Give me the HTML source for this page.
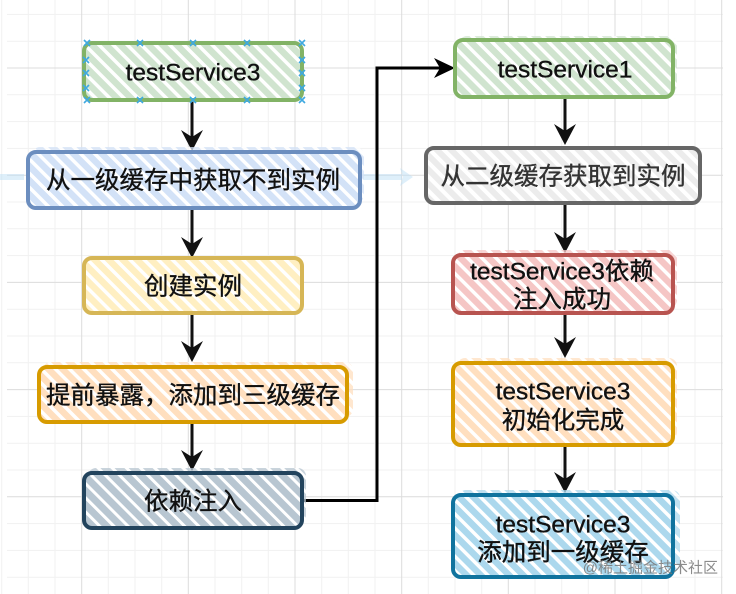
<!DOCTYPE html>
<html><head><meta charset="utf-8">
<style>
html,body{margin:0;padding:0;background:#fff;}
svg{display:block;}
text{font-family:"Liberation Sans","Noto Sans CJK SC",sans-serif;fill:#111;}
</style></head>
<body>
<svg width="736" height="594" viewBox="0 0 736 594" xmlns="http://www.w3.org/2000/svg">
<defs>
  <pattern id="pGreen" patternUnits="userSpaceOnUse" width="10" height="10" patternTransform="rotate(-45)"><rect width="10" height="10" fill="#fff"/><rect width="6.5" height="10" fill="#d0e4cf"/></pattern>
  <pattern id="pBlue" patternUnits="userSpaceOnUse" width="10" height="10" patternTransform="rotate(-45)"><rect width="10" height="10" fill="#fff"/><rect width="6.5" height="10" fill="#d3e2f7"/></pattern>
  <pattern id="pYellow" patternUnits="userSpaceOnUse" width="10" height="10" patternTransform="rotate(-45)"><rect width="10" height="10" fill="#fff"/><rect width="6.5" height="10" fill="#ffefc2"/></pattern>
  <pattern id="pOrange" patternUnits="userSpaceOnUse" width="10" height="10" patternTransform="rotate(-45)"><rect width="10" height="10" fill="#fff"/><rect width="6.5" height="10" fill="#ffdfbf"/></pattern>
  <pattern id="pDark" patternUnits="userSpaceOnUse" width="10" height="10" patternTransform="rotate(-45)"><rect width="10" height="10" fill="#fff"/><rect width="7" height="10" fill="#b8c6d1"/></pattern>
  <pattern id="pGray" patternUnits="userSpaceOnUse" width="10" height="10" patternTransform="rotate(-45)"><rect width="10" height="10" fill="#fff"/><rect width="6" height="10" fill="#ececec"/></pattern>
  <pattern id="pRed" patternUnits="userSpaceOnUse" width="10" height="10" patternTransform="rotate(-45)"><rect width="10" height="10" fill="#fff"/><rect width="6.5" height="10" fill="#f5c6c5"/></pattern>
  <pattern id="pCyan" patternUnits="userSpaceOnUse" width="10" height="10" patternTransform="rotate(-45)"><rect width="10" height="10" fill="#fff"/><rect width="6.5" height="10" fill="#acd8ed"/></pattern>
</defs>

<!-- grid -->
<g stroke="#f1f1f1" stroke-width="1">
  <line x1="1.7" y1="0" x2="1.7" y2="594"/><line x1="28.3" y1="0" x2="28.3" y2="594"/><line x1="55" y1="0" x2="55" y2="594"/>
  <line x1="108.3" y1="0" x2="108.3" y2="594"/><line x1="135" y1="0" x2="135" y2="594"/><line x1="161.7" y1="0" x2="161.7" y2="594"/>
  <line x1="215" y1="0" x2="215" y2="594"/><line x1="241.7" y1="0" x2="241.7" y2="594"/><line x1="268.3" y1="0" x2="268.3" y2="594"/>
  <line x1="321.7" y1="0" x2="321.7" y2="594"/><line x1="348.3" y1="0" x2="348.3" y2="594"/><line x1="375" y1="0" x2="375" y2="594"/>
  <line x1="428.3" y1="0" x2="428.3" y2="594"/><line x1="455" y1="0" x2="455" y2="594"/><line x1="481.7" y1="0" x2="481.7" y2="594"/>
  <line x1="535" y1="0" x2="535" y2="594"/><line x1="561.7" y1="0" x2="561.7" y2="594"/><line x1="588.3" y1="0" x2="588.3" y2="594"/>
  <line x1="641.7" y1="0" x2="641.7" y2="594"/><line x1="668.3" y1="0" x2="668.3" y2="594"/><line x1="695" y1="0" x2="695" y2="594"/>
  <line x1="7" y1="14.4" x2="723" y2="14.4"/><line x1="7" y1="41.2" x2="723" y2="41.2"/>
  <line x1="7" y1="94.8" x2="723" y2="94.8"/><line x1="7" y1="121.6" x2="723" y2="121.6"/><line x1="7" y1="148.4" x2="723" y2="148.4"/>
  <line x1="7" y1="202" x2="723" y2="202"/><line x1="7" y1="228.8" x2="723" y2="228.8"/><line x1="7" y1="255.6" x2="723" y2="255.6"/>
  <line x1="7" y1="309.2" x2="723" y2="309.2"/><line x1="7" y1="336" x2="723" y2="336"/><line x1="7" y1="362.8" x2="723" y2="362.8"/>
  <line x1="7" y1="416.4" x2="723" y2="416.4"/><line x1="7" y1="443.2" x2="723" y2="443.2"/><line x1="7" y1="470" x2="723" y2="470"/>
  <line x1="7" y1="523.6" x2="723" y2="523.6"/><line x1="7" y1="550.4" x2="723" y2="550.4"/><line x1="7" y1="577.2" x2="723" y2="577.2"/>
</g>
<g stroke="#dcdcdc" stroke-width="1">
  <line x1="81.7" y1="0" x2="81.7" y2="594"/><line x1="188.3" y1="0" x2="188.3" y2="594"/><line x1="295" y1="0" x2="295" y2="594"/>
  <line x1="401.7" y1="0" x2="401.7" y2="594"/><line x1="508.3" y1="0" x2="508.3" y2="594"/><line x1="615" y1="0" x2="615" y2="594"/>
  <line x1="721.7" y1="0" x2="721.7" y2="594"/>
  <line x1="7" y1="68" x2="723" y2="68"/><line x1="7" y1="175.2" x2="723" y2="175.2"/><line x1="7" y1="282.4" x2="723" y2="282.4"/>
  <line x1="7" y1="389.6" x2="723" y2="389.6"/><line x1="7" y1="496.8" x2="723" y2="496.8"/>
</g>

<!-- faint blue hover arrow -->
<g opacity="0.5">
  <line x1="0" y1="177" x2="24" y2="177" stroke="#bfe0f6" stroke-width="6"/>
  <line x1="362" y1="177" x2="402" y2="177" stroke="#bfe0f6" stroke-width="6"/>
  <path d="M413 177 L400 168 L403 177 L400 186 Z" fill="#bfe0f6"/>
</g>

<!-- connector from 依赖注入 to testService1 -->
<path d="M302 500.5 H377 V68 H440" fill="none" stroke="#000" stroke-width="3"/>
<path d="M455 68 L434 58 L440 68 L434 78 Z" fill="#000"/>

<!-- vertical arrows -->
<g stroke="#111" stroke-width="3">
  <line x1="192" y1="100" x2="192" y2="140"/>
  <line x1="192" y1="208" x2="192" y2="247"/>
  <line x1="192" y1="313" x2="192" y2="351"/>
  <line x1="192" y1="422" x2="192" y2="460"/>
  <line x1="565" y1="97" x2="565" y2="134"/>
  <line x1="565" y1="203" x2="565" y2="242"/>
  <line x1="565" y1="313" x2="565" y2="348"/>
  <line x1="565" y1="445" x2="565" y2="482"/>
</g>
<g fill="#111">
  <path d="M192 151 L181 130 L192 137 L203 130 Z"/>
  <path d="M192 258 L181 237 L192 244 L203 237 Z"/>
  <path d="M192 362 L181 341 L192 348 L203 341 Z"/>
  <path d="M192 471 L181 450 L192 457 L203 450 Z"/>
  <path d="M565 145 L554 124 L565 131 L576 124 Z"/>
  <path d="M565 253 L554 232 L565 239 L576 232 Z"/>
  <path d="M565 358 L554 337 L565 344 L576 337 Z"/>
  <path d="M565 493 L554 472 L565 479 L576 472 Z"/>
</g>

<!-- hatch bleed (sketchy fill overflow) -->
<g opacity="0.75">
  <rect x="32" y="147" width="332" height="56" rx="8" fill="url(#pBlue)"/>
  <rect x="43" y="362" width="310" height="55" rx="8" fill="url(#pOrange)"/>
  <rect x="88" y="468" width="218" height="55" rx="8" fill="url(#pDark)"/>
  <rect x="457" y="250" width="220" height="58" rx="8" fill="url(#pRed)"/>
  <rect x="457" y="358" width="220" height="82" rx="8" fill="url(#pOrange)"/>
  <rect x="458" y="490" width="222" height="82" rx="8" fill="url(#pCyan)"/>
  <rect x="459" y="36" width="218" height="57" rx="8" fill="url(#pGreen)"/>
</g>

<!-- boxes -->
<g stroke-linejoin="round">
  <rect x="84" y="43" width="218" height="57" rx="8" fill="url(#pGreen)" stroke="#82b366" stroke-width="4"/>
  <rect x="28" y="152" width="332" height="56" rx="8" fill="url(#pBlue)" stroke="#6c8ebf" stroke-width="4"/>
  <rect x="84" y="258" width="218" height="55" rx="8" fill="url(#pYellow)" stroke="#d6b656" stroke-width="4"/>
  <rect x="39" y="367" width="308" height="55" rx="8" fill="url(#pOrange)" stroke="#d79b00" stroke-width="4"/>
  <rect x="84" y="473" width="218" height="55" rx="8" fill="url(#pDark)" stroke="#23445d" stroke-width="4"/>
  <rect x="455" y="40" width="218" height="57" rx="8" fill="url(#pGreen)" stroke="#82b366" stroke-width="4"/>
  <rect x="426" y="148" width="274" height="55" rx="8" fill="url(#pGray)" stroke="#666666" stroke-width="4"/>
  <rect x="453" y="255" width="220" height="58" rx="8" fill="url(#pRed)" stroke="#b85450" stroke-width="4"/>
  <rect x="453" y="363" width="220" height="82" rx="8" fill="url(#pOrange)" stroke="#d79b00" stroke-width="4"/>
  <rect x="453" y="495" width="220" height="82" rx="8" fill="url(#pCyan)" stroke="#10739e" stroke-width="4"/>
</g>

<!-- selection markers -->
<g stroke="#3fa9e0" stroke-width="1.6" fill="none">
  <path d="M84 40 l6 6 M90 40 l-6 6"/><path d="M137 40 l6 6 M143 40 l-6 6"/><path d="M190 40 l6 6 M196 40 l-6 6"/><path d="M244 40 l6 6 M250 40 l-6 6"/><path d="M299 40 l6 6 M305 40 l-6 6"/>
  <path d="M84 97 l6 6 M90 97 l-6 6"/><path d="M137 97 l6 6 M143 97 l-6 6"/><path d="M190 97 l6 6 M196 97 l-6 6"/><path d="M244 97 l6 6 M250 97 l-6 6"/><path d="M299 97 l6 6 M305 97 l-6 6"/>
  <path d="M83 57 l6 6 M89 57 l-6 6"/><path d="M83 70 l6 6 M89 70 l-6 6"/><path d="M83 85 l6 6 M89 85 l-6 6"/>
  <path d="M299 57 l6 6 M305 57 l-6 6"/><path d="M299 70 l6 6 M305 70 l-6 6"/><path d="M299 85 l6 6 M305 85 l-6 6"/>
</g>

<!-- labels -->
<g font-size="24.5" text-anchor="middle" dominant-baseline="central" stroke="#111" stroke-width="0.35">
  <text x="193" y="73">testService3</text>
  <text x="193" y="181">从一级缓存中获取不到实例</text>
  <text x="193" y="287">创建实例</text>
  <text x="193" y="396">提前暴露，添加到三级缓存</text>
  <text x="193" y="502">依赖注入</text>
  <text x="565" y="70">testService1</text>
  <text x="563" y="177" style="fill:#333" stroke="#333">从二级缓存获取到实例</text>
  <text x="562" y="272">testService3依赖</text>
  <text x="562" y="300">注入成功</text>
  <text x="563" y="392">testService3</text>
  <text x="563" y="421">初始化完成</text>
  <text x="563" y="525">testService3</text>
  <text x="563" y="553">添加到一级缓存</text>
</g>

<!-- watermark -->
<text x="718" y="568" font-size="15" text-anchor="end" dominant-baseline="central" style="fill:#777;opacity:0.85">@稀土掘金技术社区</text>
</svg>
</body></html>
